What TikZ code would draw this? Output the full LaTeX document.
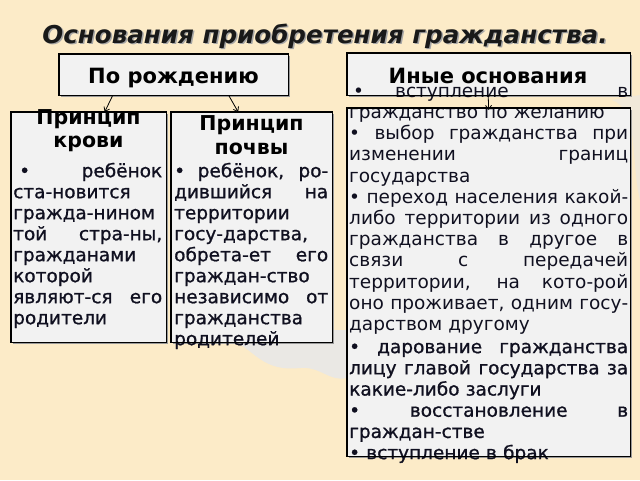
\documentclass[tikz,border=0pt]{standalone}
\usepackage{fontspec}
\setmainfont{DejaVu Sans}
\newfontfamily\fbold{DejaVu Sans}[FakeBold=1]
\usetikzlibrary{arrows.meta}
\definecolor{bgc}{HTML}{FCEBC8}
\definecolor{boxc}{HTML}{F2F2F2}
\definecolor{ink}{HTML}{101020}
\definecolor{mapc}{HTML}{EAE8E4}
\newcommand\jl[2]{{\spaceskip=0pt\xspaceskip=0pt\makebox[#1][s]{#2}}}
\begin{document}
\begin{tikzpicture}[x=1pt,y=-1pt,
  boxfill/.style={fill=boxc, draw=none, inner sep=0pt, anchor=north west},
  boxline/.style={draw=black, line width=1.3pt},
  head/.style={font=\fontsize{21}{23}\selectfont\bfseries, text=black, inner sep=0pt, align=center},
  princ/.style={font=\fontsize{20.5}{23}\selectfont\bfseries, text=black, inner sep=0pt, align=center},
  body/.style={font=\fontsize{18.5}{21}\selectfont, text=ink, inner sep=0pt, anchor=north west, align=left},
  listbody/.style={font=\fontsize{18.5}{21.2}\selectfont, text=ink, inner sep=0pt, anchor=north west, align=left},
  arr/.style={-{Straight Barb[length=4pt,width=6pt]}, line width=0.8pt}]
\useasboundingbox (0,0) rectangle (640,480);
\fill[bgc] (0,0) rectangle (640,480);
% faint map shapes
\fill[mapc] (232,340) .. controls (255,350) and (262,372) .. (300,368) .. controls (320,366) and (330,382) .. (346,378) -- (346,330) -- (232,330) -- cycle;
\fill[mapc!60!bgc] (612,100) .. controls (640,110) and (630,160) .. (640,200) -- (640,95) -- cycle;
% title
\node[font=\fontsize{24.6}{28}\selectfont\bfseries\itshape, text=black!35, anchor=base] (titleshadow) at (326.5,44.5) {Основания приобретения гражданства.};
\node[font=\fontsize{24.6}{28}\selectfont\bfseries\itshape, text=black!90, anchor=base] (title) at (325,43) {Основания приобретения гражданства.};
% box fills with shadows
\foreach \n/\x/\y/\w/\h in {born/59/54/229/41, other/347/53/283/42, krovi/11/112/155/230, pochva/171/112/161/230, list/347/108/283/348}{
  \fill[black!40] (\x+1.5,\y+1.5) rectangle (\x+\w+1.5,\y+\h+1.5);
  \node[boxfill, minimum width=\w, minimum height=\h] (\n) at (\x,\y) {};
}
% header texts
\node[head, anchor=base] (bornt) at (173.5,83) {По рождению};
\node[head, anchor=base] (othert) at (488,83) {Иные основания};
\node[princ, anchor=base] (krovih) at (88.5,124) {Принцип};
\node[princ, anchor=base] (krovih2) at (88.5,147) {крови};
\node[princ, anchor=base] (pochvah) at (251.5,130) {Принцип};
\node[princ, anchor=base] (pochvah2) at (251.5,154) {почвы};
% body texts
\node[body, text width=149] (krovib) at (13,162.3) {\fbold\strut\jl{149pt}{\hspace{6pt}• ребёнок}\\
ста-новится\\
гражда-нином\\
\jl{149pt}{той стра-ны,}\\
гражданами\\
которой\\
\jl{149pt}{являют-ся его}\\
родители};
\node[body, text width=154] (pochvab) at (174,162.3) {\fbold\strut\jl{154pt}{• ребёнок, ро-}\\
\jl{154pt}{дившийся на}\\
территории\\
госу-дарства,\\
\jl{154pt}{обрета-ет его}\\
граждан-ство\\
\jl{154pt}{независимо от}\\
гражданства\\
родителей};
\node[listbody, text width=279] (listb) at (349,82.2) {\strut\makebox[279pt][l]{\hspace{4pt}•\hspace{31pt}вступление\hfill в}\\
гражданство по желанию\\
\jl{279pt}{• выбор гражданства при}\\
\jl{279pt}{изменении границ}\\
государства\\
\jl{279pt}{• переход населения какой-}\\
\jl{279pt}{либо территории из одного}\\
\jl{279pt}{гражданства в другое в}\\
\jl{279pt}{связи с передачей}\\
\jl{279pt}{территории, на кото-рой}\\
\jl{279pt}{оно проживает, одним госу-}\\
дарством другому\\[1.5pt]
{\fbold\jl{279pt}{• дарование гражданства}}\\
{\fbold\jl{279pt}{лицу главой государства за}}\\
{\fbold какие-либо заслуги}\\
{\fbold\jl{279pt}{• восстановление в}}\\
{\fbold граждан-стве}\\
{\fbold • вступление в брак}};
% box borders on top
\foreach \n in {born, other, krovi, pochva, list}{
  \draw[boxline] (\n.north west) rectangle (\n.south east);
}
% connectors
\draw[arr] ([xshift=-61pt]born.south) -- ([xshift=16pt]krovi.north);
\draw[arr] ([xshift=55pt]born.south) -- ([xshift=-13.5pt]pochva.north);
\draw[arr] ([xshift=-0.5pt]other.south) -- ([yshift=-2pt]list.north);
\end{tikzpicture}
\end{document}
